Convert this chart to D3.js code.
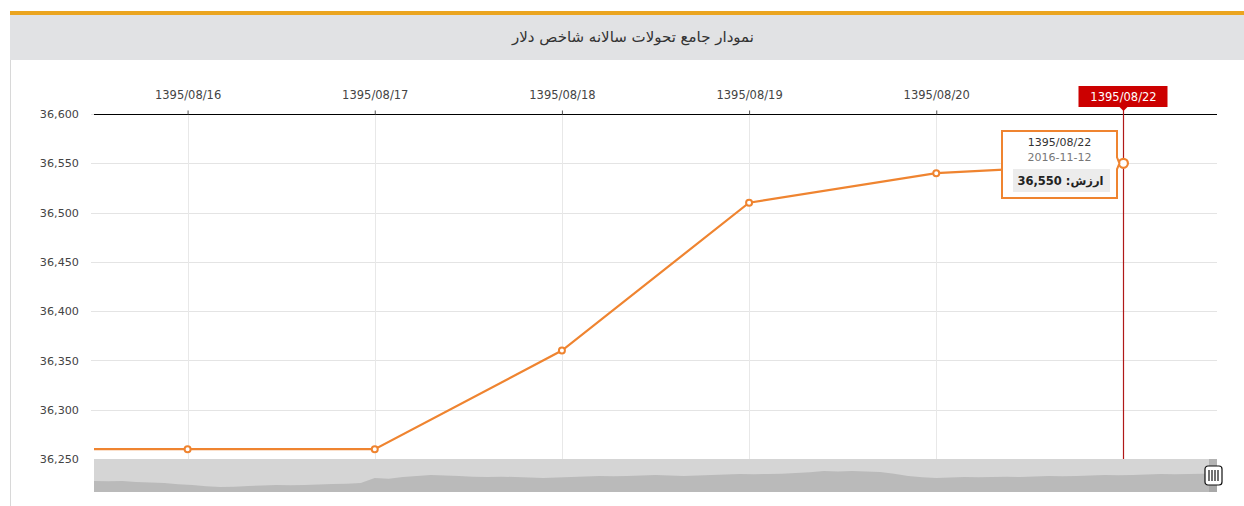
<!DOCTYPE html>
<html lang="fa">
<head>
    <meta charset="UTF-8">
    <title>نمودار جامع تحولات سالانه شاخص دلار</title>
    <script src="https://d3js.org/d3.v7.min.js"></script>
    <style>
        body {
            margin: 0;
            padding: 0;
            background: #fff;
            font-family: 'DejaVu Sans', sans-serif;
        }
        .axis text {
            fill: #444;
        }
    </style>
</head>
<body>
    <svg id="chart"></svg>

    <script>
        // Data
        const shamsiDates = ["1395/08/15", "1395/08/16", "1395/08/17", "1395/08/18", "1395/08/19", "1395/08/20", "1395/08/22"];
        const gregDates = ["2016-11-05", "2016-11-06", "2016-11-07", "2016-11-08", "2016-11-09", "2016-11-10", "2016-11-12"];
        const dollarValues = [36260, 36260, 36260, 36360, 36510, 36540, 36550];
        const yTicks = [36250, 36300, 36350, 36400, 36450, 36500, 36550, 36600];
        // whole-year series shown in the scrollbar (estimated)
        const navValues = [32670, 32600, 32670, 32420, 32300, 32180, 31900, 31700, 31400, 31210, 31300, 31450,
            31600, 31700, 31650, 31700, 31800, 31940, 32000, 32180, 33390, 33200, 33640, 33900, 34120, 34000,
            33880, 33700, 33640, 33700, 33640, 33500, 33390, 33500, 33640, 33750, 33880, 33800, 33880, 34000,
            34120, 34000, 33880, 34000, 34120, 34250, 34360, 34300, 34360, 34450, 34600, 34800, 35090, 35000,
            35090, 34950, 34850, 34400, 33880, 33600, 33390, 33500, 33640, 33600, 33640, 33700, 33640, 33750,
            33880, 33800, 33880, 34000, 34120, 34050, 34120, 34250, 34360, 34300, 34360, 34450, 34600];

        const W = 1244, H = 506;
        const plot = { left: 94, right: 1217, top: 114, bottom: 459 };
        const orange = "#ef8430";

        const svg = d3.select("#chart")
            .attr("width", W)
            .attr("height", H)
            .style("display", "block");

        // Header
        svg.append("rect").attr("x", 10).attr("y", 11).attr("width", W - 10).attr("height", 4).attr("fill", "#eba51f");
        svg.append("rect").attr("x", 10).attr("y", 15).attr("width", W - 10).attr("height", 45).attr("fill", "#e1e2e4");
        svg.append("line").attr("x1", 10.5).attr("x2", 10.5).attr("y1", 60).attr("y2", H).attr("stroke", "#d8d8d8");
        svg.append("text")
            .attr("x", 633).attr("y", 42)
            .attr("text-anchor", "middle")
            .attr("direction", "rtl")
            .attr("font-size", "15px")
            .attr("fill", "#333")
            .text("نمودار جامع تحولات سالانه شاخص دلار");

        // Scales: points are spaced by trading day index
        const idx = dollarValues.map((d, i) => i - 1);
        const x = d3.scaleLinear().domain([-0.5, 5.5]).range([plot.left, plot.right]);
        const y = d3.scaleLinear().domain([36250, 36600]).range([plot.bottom, plot.top]);

        // Grid
        svg.append("g")
            .selectAll("line.hgrid")
            .data(yTicks.slice(1))
            .join("line")
            .attr("x1", plot.left - 3).attr("x2", plot.right)
            .attr("y1", d => Math.round(y(d)) + 0.5).attr("y2", d => Math.round(y(d)) + 0.5)
            .attr("stroke", "#e4e4e4");

        svg.append("g")
            .selectAll("line.vgrid")
            .data(idx.slice(1))
            .join("line")
            .attr("x1", d => Math.round(x(d)) + 0.5).attr("x2", d => Math.round(x(d)) + 0.5)
            .attr("y1", plot.top).attr("y2", plot.bottom)
            .attr("stroke", "#e8e8e8");

        // Y axis labels
        const yAxis = svg.append("g")
            .attr("class", "axis")
            .attr("transform", `translate(${plot.left - 12},0)`)
            .call(d3.axisLeft(y).tickValues(yTicks).tickSize(0).tickFormat(d3.format(",")));
        yAxis.select(".domain").remove();
        yAxis.selectAll("text").attr("font-size", "11.2px").attr("font-family", "'DejaVu Sans', sans-serif");

        // X axis on top
        const xAxis = svg.append("g")
            .attr("class", "axis")
            .attr("transform", `translate(0,${plot.top + 0.5})`)
            .call(d3.axisTop(x)
                .tickValues(idx.slice(1, 6))
                .tickSize(4)
                .tickPadding(12)
                .tickFormat(d => shamsiDates[d + 1]));
        xAxis.select(".domain")
            .attr("d", `M${plot.left},0H${plot.right}`)
            .attr("stroke", "#000");
        xAxis.selectAll(".tick line").attr("stroke", "#555");
        xAxis.selectAll("text").attr("font-size", "11.5px").attr("font-family", "'DejaVu Sans', sans-serif");

        // Line + markers, clipped to plot
        svg.append("clipPath").attr("id", "plotClip")
            .append("rect")
            .attr("x", plot.left).attr("y", plot.top - 10)
            .attr("width", plot.right - plot.left + 10).attr("height", plot.bottom - plot.top + 10);

        const pts = dollarValues.map((v, i) => ({ i: idx[i], v }));
        const g = svg.append("g").attr("clip-path", "url(#plotClip)");
        g.append("path")
            .datum(pts)
            .attr("fill", "none")
            .attr("stroke", orange)
            .attr("stroke-width", 2.2)
            .attr("d", d3.line().x(d => x(d.i)).y(d => y(d.v)));

        // Cursor line
        const last = pts[pts.length - 1];
        const cx = Math.round(x(last.i)) + 0.5;
        svg.append("line")
            .attr("x1", cx).attr("x2", cx)
            .attr("y1", 106).attr("y2", plot.bottom)
            .attr("stroke", "#b01818")
            .attr("stroke-width", 1.2);

        g.selectAll("circle")
            .data(pts.slice(0, -1))
            .join("circle")
            .attr("cx", d => x(d.i)).attr("cy", d => y(d.v))
            .attr("r", 3)
            .attr("fill", "#fff")
            .attr("stroke", orange)
            .attr("stroke-width", 2);
        svg.append("circle")
            .attr("cx", x(last.i)).attr("cy", y(last.v))
            .attr("r", 4.5)
            .attr("fill", "#fff")
            .attr("stroke", orange)
            .attr("stroke-width", 2.2);

        // Cursor category label
        const lab = svg.append("g").attr("transform", `translate(${cx},0)`);
        lab.append("rect").attr("x", -45).attr("y", 86).attr("width", 89).attr("height", 21).attr("fill", "#cc0000");
        lab.append("path").attr("d", "M-4,107L0,111L4,107Z").attr("fill", "#cc0000");
        lab.append("text")
            .attr("x", 0).attr("y", 101)
            .attr("text-anchor", "middle")
            .attr("font-size", "11.5px")
            .attr("fill", "#fff")
            .text(shamsiDates[shamsiDates.length - 1]);

        // Tooltip balloon
        const py = y(last.v);
        const bx0 = 1002, bx1 = 1117, by0 = 131, by1 = 198;
        const tip = svg.append("g");
        tip.append("path")
            .attr("d", `M${bx0},${by0}H${bx1}V${py - 6}L${x(last.i) - 4},${py}L${bx1},${py + 6}V${by1}H${bx0}Z`)
            .attr("fill", "#fff")
            .attr("stroke", orange)
            .attr("stroke-width", 2);
        const tcx = (bx0 + bx1) / 2;
        tip.append("text").attr("x", tcx).attr("y", 146).attr("text-anchor", "middle")
            .attr("font-size", "11px").attr("fill", "#333").text(shamsiDates[shamsiDates.length - 1]);
        tip.append("text").attr("x", tcx).attr("y", 161).attr("text-anchor", "middle")
            .attr("font-size", "11px").attr("fill", "#777").text(gregDates[gregDates.length - 1]);
        tip.append("rect").attr("x", 1013).attr("y", 169).attr("width", 97).attr("height", 23).attr("fill", "#ececec");
        tip.append("text").attr("x", tcx + 1).attr("y", 185).attr("text-anchor", "middle")
            .attr("direction", "rtl")
            .attr("font-size", "11.5px").attr("font-weight", "bold").attr("fill", "#222")
            .text("ارزش: " + d3.format(",")(last.v));

        // Scrollbar / navigator
        const nx = d3.scaleLinear().domain([0, navValues.length - 1]).range([plot.left, plot.right]);
        const ny = d3.scaleLinear().domain([30000, 38000]).range([492, 459]);
        svg.append("rect")
            .attr("x", plot.left).attr("y", 459)
            .attr("width", plot.right - plot.left).attr("height", 33)
            .attr("fill", "#d5d5d5");
        svg.append("path")
            .datum(navValues)
            .attr("fill", "#bababa")
            .attr("d", d3.area().x((d, i) => nx(i)).y0(492).y1(d => ny(d)));
        svg.append("rect")
            .attr("x", 1209).attr("y", 459).attr("width", 8).attr("height", 33)
            .attr("fill", "#9c9c9c").attr("opacity", 0.6);

        const grip = svg.append("g").attr("transform", "translate(1205,466)");
        grip.append("rect").attr("width", 17).attr("height", 19).attr("rx", 3)
            .attr("fill", "#fff").attr("stroke", "#111").attr("stroke-width", 1.2);
        [4, 7, 10, 13].forEach(px => {
            grip.append("line").attr("x1", px).attr("x2", px).attr("y1", 4).attr("y2", 15)
                .attr("stroke", "#111").attr("stroke-width", 1.2);
        });
    </script>
</body>
</html>
